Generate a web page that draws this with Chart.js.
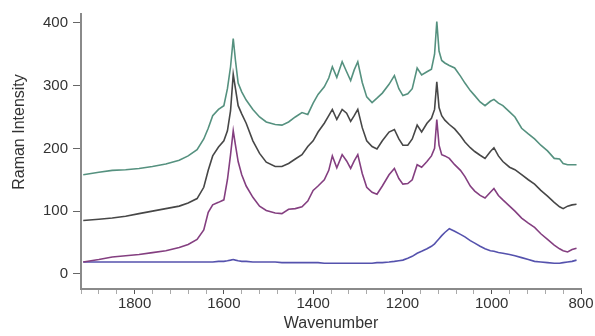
<!DOCTYPE html>
<html>
<head>
<meta charset="utf-8">
<script src="https://cdn.jsdelivr.net/npm/chart.js@4.4.0/dist/chart.umd.min.js"></script>
<style>
html, body { margin: 0; padding: 0; background: #fff; }
</style>
</head>
<body>
<canvas id="c" width="595" height="336"></canvas>
<script>
// wavenumber grid (cm-1), shared by all four spectra
const wavenumbers = [
  1915, 1880, 1850, 1820, 1790, 1760, 1730, 1700, 1680, 1660,
  1645, 1635, 1625, 1612, 1600, 1592, 1585, 1579, 1574, 1568,
  1560, 1550, 1535, 1520, 1505, 1485, 1470, 1455, 1440, 1425,
  1412, 1400, 1389, 1375, 1365, 1357, 1347, 1335, 1325, 1316,
  1308, 1300, 1290, 1280, 1268, 1257, 1245, 1230, 1218, 1208,
  1199, 1188, 1178, 1167, 1157, 1145, 1135, 1128, 1123, 1118,
  1112, 1105, 1095, 1083, 1070, 1060, 1048, 1038, 1026, 1015,
  1003, 995, 985, 975, 960, 948, 933, 918, 904, 890,
  875, 860, 848, 840, 830, 820, 810
];

const spectrumTeal = [
  158, 162, 165, 166, 168, 171, 175, 181, 188, 198,
  215, 232, 252, 262, 268, 295, 330, 375, 340, 304,
  290, 277, 262, 250, 242, 238, 237, 242, 250, 257,
  254, 272, 286, 298, 312, 330, 313, 338, 322, 308,
  325, 338, 305, 282, 273, 280, 288, 302, 316, 295,
  284, 287, 295, 328, 317, 322, 326, 350, 402, 355,
  340, 336, 332, 328, 315, 304, 292, 284, 274, 268,
  275, 278, 272, 268, 258, 250, 232, 223, 215, 205,
  196, 184, 183, 176, 174, 174, 174
];

const spectrumGray = [
  85, 87, 89, 92, 96, 100, 104, 108, 113, 120,
  138, 165, 188, 202, 212, 228, 260, 318, 295, 268,
  255, 240, 212, 192, 178, 171, 171, 176, 183, 190,
  203, 212, 226, 240, 252, 262, 246, 262, 256, 243,
  252, 262, 233, 212, 203, 199, 212, 226, 230, 215,
  205, 205, 215, 237, 226, 240, 248, 262, 306, 265,
  252, 245, 238, 231, 220, 210, 201, 195, 189, 184,
  195, 201, 188, 179, 170, 166, 158, 150, 143, 133,
  124, 114, 107, 104, 108, 110, 111
];

const spectrumPurple = [
  19, 23, 27, 29, 31, 34, 37, 42, 47, 55,
  70, 98, 110, 114, 118, 150, 190, 228, 205, 179,
  158, 140, 122, 108, 101, 97, 96, 103, 104, 107,
  116, 133, 140, 150, 165, 188, 169, 190, 180, 168,
  180, 190, 160, 138, 130, 127, 140, 158, 168, 152,
  143, 144, 150, 174, 170, 179, 188, 200, 246, 205,
  190, 188, 184, 174, 165, 155, 140, 132, 125, 121,
  130, 136, 125, 118, 108, 100, 89, 81, 74, 64,
  55, 46, 40, 37, 35, 39, 41
];

const spectrumBlue = [
  19, 19, 19, 19, 19, 19, 19, 19, 19, 19,
  19, 19, 19, 20, 20, 21, 22, 23, 22, 21,
  20, 20, 19, 19, 19, 19, 18, 18, 18, 18,
  18, 18, 18, 17, 17, 17, 17, 17, 17, 17,
  17, 17, 17, 17, 17, 18, 18, 19, 20, 21,
  22, 25, 28, 33, 36, 40, 44, 48, 52, 56,
  61, 66, 72, 68, 63, 59, 53, 49, 44, 40,
  37, 36, 34, 33, 31, 29, 26, 23, 20, 19,
  18, 17, 17, 18, 19, 20, 22
];

const yTickValues = [0, 100, 200, 300, 400];
const xMajorTicks = [1800, 1600, 1400, 1200, 1000, 800];
const xAllTicks = [
  1920, 1880, 1840, 1800, 1760, 1720, 1680, 1640, 1600, 1560,
  1520, 1480, 1440, 1400, 1360, 1320, 1280, 1240, 1200, 1160,
  1120, 1080, 1040, 1000, 960, 920, 880, 840, 800
];

const FONT = '"Liberation Sans", Arial, sans-serif';

function series(vals, color) {
  return {
    data: wavenumbers.map((w, i) => ({ x: w, y: vals[i] })),
    borderColor: color,
    borderWidth: 1.6,
    pointRadius: 0,
    tension: 0,
    fill: false
  };
}

// y axis title is placed by hand, it sits above the axis centre in the original
const yTitle = {
  id: 'yTitle',
  afterDraw(chart) {
    const c = chart.ctx;
    c.save();
    c.translate(20, 132);
    c.rotate(-Math.PI / 2);
    c.font = '16px ' + FONT;
    c.fillStyle = '#333';
    c.textAlign = 'center';
    c.textBaseline = 'middle';
    c.fillText('Raman Intensity', 0, 0);
    c.restore();
  }
};

new Chart(document.getElementById('c').getContext('2d'), {
  type: 'line',
  data: {
    datasets: [
      series(spectrumTeal, '#55917f'),
      series(spectrumGray, '#474747'),
      series(spectrumPurple, '#843f80'),
      series(spectrumBlue, '#5552ad')
    ]
  },
  options: {
    responsive: false,
    animation: false,
    devicePixelRatio: 1,
    layout: { padding: { top: 10, right: 14, left: 0, bottom: 0 } },
    plugins: {
      legend: { display: false },
      tooltip: { enabled: false }
    },
    scales: {
      x: {
        type: 'linear',
        reverse: true,
        min: 800,
        max: 1920,
        afterBuildTicks: s => { s.ticks = xAllTicks.map(v => ({ value: v })); },
        afterFit: s => { s.height = 47; },
        grid: {
          drawOnChartArea: false,
          tickLength: 5,
          tickColor: ctx => xMajorTicks.includes(ctx.tick.value) ? '#555' : '#aaa'
        },
        border: { color: '#8a8a8a', width: 2 },
        ticks: {
          autoSkip: false,
          maxRotation: 0,
          padding: 1,
          color: '#333',
          font: { size: 15, family: FONT },
          callback: v => xMajorTicks.includes(v) ? String(v) : ''
        },
        title: {
          display: true,
          text: 'Wavenumber',
          color: '#333',
          font: { size: 16, family: FONT },
          padding: { top: 0, bottom: 3 }
        }
      },
      y: {
        min: -24,
        max: 414,
        afterBuildTicks: s => { s.ticks = yTickValues.map(v => ({ value: v })); },
        afterFit: s => { s.width = 81; },
        grid: { drawOnChartArea: false, tickLength: 8, tickColor: '#666' },
        border: { color: '#8a8a8a', width: 2 },
        ticks: {
          padding: 5,
          color: '#333',
          font: { size: 15, family: FONT }
        }
      }
    }
  },
  plugins: [yTitle]
});
</script>
</body>
</html>
